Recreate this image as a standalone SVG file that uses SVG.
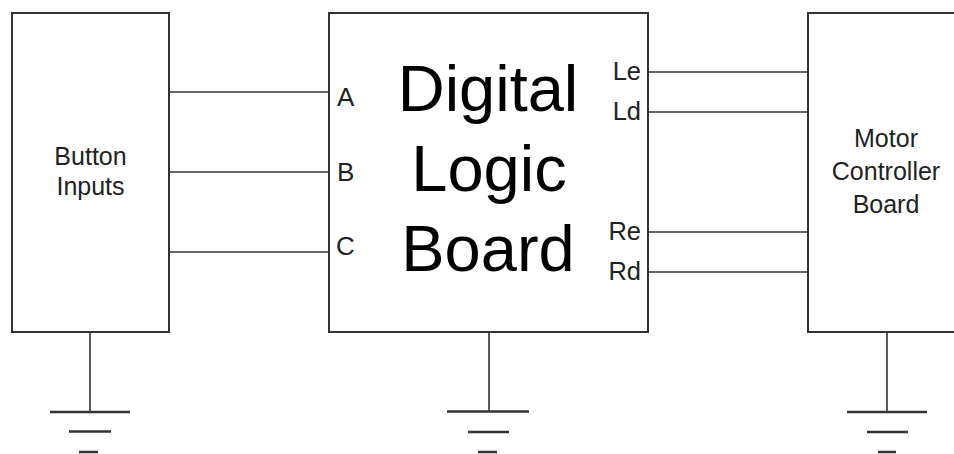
<svg xmlns="http://www.w3.org/2000/svg" width="954" height="454" viewBox="0 0 954 454">
<style>
.box{fill:#fff;stroke:#333;stroke-width:2}
.wire{stroke:#333;stroke-width:1.6;fill:none}
.gnd{stroke:#333;stroke-width:2.5;fill:none}
.lbl{font-family:"Liberation Sans",Arial,sans-serif;fill:#222}
.big{font-family:"Liberation Sans",Arial,sans-serif;fill:#000;font-size:65px;text-anchor:middle}
</style>
<rect width="954" height="454" fill="#fff"/>
<g id="connectors">
<line class="wire" x1="169" y1="92" x2="329" y2="92"/>
<line class="wire" x1="169" y1="172" x2="329" y2="172"/>
<line class="wire" x1="169" y1="252" x2="329" y2="252"/>
<line class="wire" x1="648" y1="72" x2="808" y2="72"/>
<line class="wire" x1="648" y1="112" x2="808" y2="112"/>
<line class="wire" x1="648" y1="232" x2="808" y2="232"/>
<line class="wire" x1="648" y1="272" x2="808" y2="272"/>
<line class="wire" x1="90" y1="332" x2="90" y2="412"/>
<line class="wire" x1="489" y1="332" x2="489" y2="412"/>
<line class="wire" x1="887" y1="332" x2="887" y2="412"/>
</g>
<g id="button-inputs">
<rect class="box" x="12" y="13" width="157" height="319"/>
<text class="lbl" x="90.5" y="165" font-size="25" text-anchor="middle">Button</text>
<text class="lbl" x="90.5" y="195" font-size="25" text-anchor="middle">Inputs</text>
</g>
<g id="digital-logic-board">
<rect class="box" x="329" y="13" width="319" height="319"/>
<text class="big" x="488" y="111">Digital</text>
<text class="big" x="489" y="191">Logic</text>
<text class="big" x="488" y="271">Board</text>
<text class="lbl" x="337" y="106" font-size="26">A</text>
<text class="lbl" x="337" y="181" font-size="26">B</text>
<text class="lbl" x="336" y="255" font-size="26">C</text>
<text class="lbl" x="641" y="80" font-size="25.5" text-anchor="end">Le</text>
<text class="lbl" x="641" y="120" font-size="25.5" text-anchor="end">Ld</text>
<text class="lbl" x="641" y="240" font-size="25.5" text-anchor="end">Re</text>
<text class="lbl" x="641" y="280" font-size="25.5" text-anchor="end">Rd</text>
</g>
<g id="motor-controller-board">
<rect class="box" x="808" y="13" width="158" height="319"/>
<text class="lbl" x="886" y="147" font-size="25" text-anchor="middle">Motor</text>
<text class="lbl" x="886" y="180" font-size="25" text-anchor="middle">Controller</text>
<text class="lbl" x="886" y="213" font-size="25" text-anchor="middle">Board</text>
</g>
<g id="ground-left">
<line class="gnd" x1="50" y1="412" x2="130" y2="412"/>
<line class="gnd" x1="69" y1="431.5" x2="111" y2="431.5"/>
<line class="gnd" x1="79" y1="452" x2="98" y2="452"/>
</g>
<g id="ground-middle">
<line class="gnd" x1="447" y1="411.5" x2="529" y2="411.5"/>
<line class="gnd" x1="468" y1="432" x2="509" y2="432"/>
<line class="gnd" x1="478" y1="452" x2="497" y2="452"/>
</g>
<g id="ground-right">
<line class="gnd" x1="847" y1="412" x2="927" y2="412"/>
<line class="gnd" x1="867" y1="432" x2="908" y2="432"/>
<line class="gnd" x1="878" y1="452" x2="896" y2="452"/>
</g>
</svg>
